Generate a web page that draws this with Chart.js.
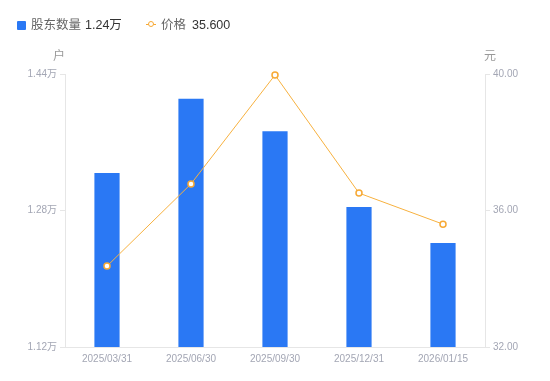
<!DOCTYPE html>
<html>
<head>
<meta charset="utf-8">
<script src="https://cdn.jsdelivr.net/npm/chart.js@4/dist/chart.umd.min.js"></script>
<style>
  html, body { margin: 0; padding: 0; background: #fff; }
  #wrap { position: relative; width: 550px; height: 381px; }
  #legend { position: absolute; left: 17px; top: 16px; font-family: "Liberation Sans", "Noto Sans CJK SC", sans-serif; font-size: 12.5px; color: #666; white-space: nowrap; }
  .item { position: absolute; top: 0; height: 18px; line-height: 18px; }
  .sq { position: absolute; left: 0; top: 5px; width: 9px; height: 9px; background: #2a78f4; border-radius: 1px; }
  .ln { position: absolute; left: 0; top: 8px; width: 10px; height: 1.2px; background: #f7a935; }
  .dot { position: absolute; left: 2px; top: 5px; width: 4px; height: 4px; border: 1.5px solid #f7a935; border-radius: 50%; background: #fff; }
  .val { color: #333; }
</style>
</head>
<body>
<div id="wrap">
  <canvas id="c" width="550" height="381"></canvas>
  <div id="legend">
    <div class="item" style="left:0"><span class="sq"></span><span style="position:absolute;left:14px">股东数量</span><span class="val" style="position:absolute;left:68px">1.24万</span></div>
    <div class="item" style="left:129px"><span class="ln"></span><span class="dot"></span><span style="position:absolute;left:15px">价格</span><span class="val" style="position:absolute;left:46px">35.600</span></div>
  </div>
</div>
<script>
const categories = ["2025/03/31", "2025/06/30", "2025/09/30", "2025/12/31", "2026/01/15"];
const holders = [1.324, 1.411, 1.373, 1.284, 1.242];   // 万户
const prices = [34.37, 36.78, 39.97, 36.51, 35.60];     // 元
const leftTicks = [1.12, 1.28, 1.44];
const rightTicks = [32, 36, 40];

const tickColor = "#a3a6b4";
const lineColor = "#e6e6e6";
const fontFam = '"Liberation Sans", "Noto Sans CJK SC", sans-serif';

const axisTitles = {
  id: "axisTitles",
  afterDraw(chart) {
    const ctx = chart.ctx;
    ctx.save();
    ctx.font = "12px " + fontFam;
    ctx.fillStyle = "#999";
    ctx.textAlign = "center";
    ctx.textBaseline = "middle";
    ctx.fillText("户", chart.scales.y.right - 6, 57);
    ctx.fillText("元", chart.scales.y1.left + 5, 57);
    ctx.restore();
  }
};

new Chart(document.getElementById("c"), {
  data: {
    labels: categories,
    datasets: [
      {
        type: "line",
        label: "价格",
        data: prices,
        yAxisID: "y1",
        borderColor: "#f7b13f",
        borderWidth: 1,
        pointRadius: 3,
        pointBorderWidth: 1.5,
        pointBackgroundColor: "#fff",
        pointBorderColor: "#f7a935",
        tension: 0,
        clip: false,
        order: 0
      },
      {
        type: "bar",
        label: "股东数量",
        data: holders,
        yAxisID: "y",
        backgroundColor: "#2a78f4",
        barPercentage: 0.3,
        categoryPercentage: 1,
        order: 1
      }
    ]
  },
  options: {
    responsive: false,
    animation: false,
    layout: { padding: { top: 74, left: 0, right: 0, bottom: 0 } },
    plugins: { legend: { display: false }, tooltip: { enabled: false } },
    scales: {
      x: {
        offset: true,
        grid: { display: false, drawTicks: false },
        border: { display: true, color: lineColor },
        ticks: { color: tickColor, font: { size: 10, family: fontFam }, padding: 6, maxRotation: 0 },
        afterFit(s) { s.height = 34; }
      },
      y: {
        position: "left",
        min: leftTicks[0], max: leftTicks[leftTicks.length - 1],
        afterBuildTicks(s) { s.ticks = leftTicks.map(v => ({ value: v })); },
        grid: { drawOnChartArea: false, drawTicks: true, tickLength: 5, color: lineColor },
        border: { display: true, color: lineColor },
        ticks: { color: tickColor, font: { size: 10, family: fontFam }, padding: 3, callback: v => v.toFixed(2) + "万" },
        afterFit(s) { s.width = 65; }
      },
      y1: {
        position: "right",
        min: rightTicks[0], max: rightTicks[rightTicks.length - 1],
        afterBuildTicks(s) { s.ticks = rightTicks.map(v => ({ value: v })); },
        grid: { drawOnChartArea: false, drawTicks: true, tickLength: 5, color: lineColor },
        border: { display: true, color: lineColor },
        ticks: { color: tickColor, font: { size: 10, family: fontFam }, padding: 3, callback: v => v.toFixed(2) },
        afterFit(s) { s.width = 65; }
      }
    }
  },
  plugins: [axisTitles]
});
</script>
</body>
</html>
